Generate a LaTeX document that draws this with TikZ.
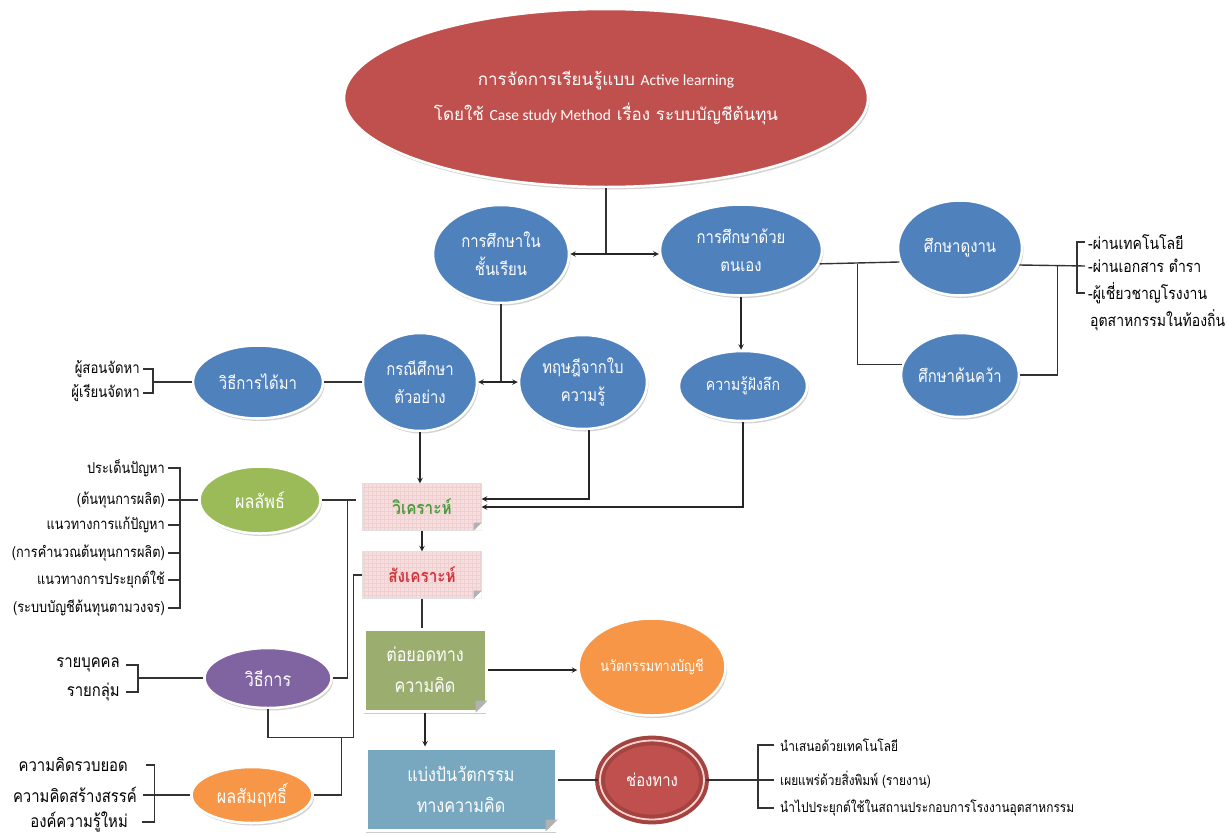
\documentclass[tikz,border=0pt]{standalone}
\usepackage{fontspec}
\usepackage{tikz}
\usetikzlibrary{shapes.geometric, arrows, shadows, calc}
\newfontfamily\thaifont[Script=Thai,FakeStretch=0.85]{Loma}
\newfontfamily\titlefont[Script=Thai]{Loma}
\newfontfamily\latinfont{Carlito}
\newcommand{\ellfont}{\thaifont\fontsize{17.5}{28}\selectfont}
\newcommand{\sidefont}{\thaifont\fontsize{15}{20}\selectfont}
\newcommand{\eng}[1]{{\latinfont\fontsize{15.5}{35}\selectfont #1}}
\definecolor{ofred}{HTML}{C0504D}
\definecolor{ofblue}{HTML}{4F81BD}
\definecolor{ofgreen}{HTML}{9BBB59}
\definecolor{ofpurple}{HTML}{8064A2}
\definecolor{oforange}{HTML}{F79646}
\definecolor{boxgreen}{HTML}{9BAE70}
\definecolor{boxblue}{HTML}{78A7C0}
\definecolor{boxpink}{HTML}{F6DEDF}
\definecolor{gridpink}{HTML}{F0CFD1}
\definecolor{anagreen}{HTML}{4C9A3C}
\definecolor{synred}{HTML}{D2343C}
\tikzstyle{conn} = [line width=1.4pt, black!80]
\tikzstyle{arr} = [line width=1.4pt, black!85, ->, >=stealth]
\tikzstyle{arrs} = [line width=1.4pt, black!85, <->, >=stealth]
\tikzstyle{bubble} = [ellipse, draw=white, line width=2.5pt, inner sep=0pt, text=white, align=center, font=\ellfont, drop shadow={shadow xshift=1.5pt, shadow yshift=-2.5pt, opacity=0.35}]
\tikzstyle{bluebub} = [bubble, fill=ofblue]
\tikzstyle{ring} = [ellipse, fill=ofred, draw=ofred!85!black, line width=4pt, double=pink!70!white, double distance=1.8pt, inner sep=0pt, text=white, font=\ellfont, drop shadow={shadow xshift=1.5pt, shadow yshift=-2.5pt, opacity=0.35}]
\tikzstyle{pinkbox} = [rectangle, fill=boxpink, draw=black!12, minimum width=119, minimum height=47, font=\thaifont\bfseries\fontsize{18}{20}\selectfont, path picture={\draw[gridpink, line width=0.3pt, step=4pt] (path picture bounding box.south west) grid (path picture bounding box.north east);}]
\tikzstyle{paper} = [rectangle, draw=white, line width=3pt, text=white, align=center, font=\thaifont\fontsize{19}{31}\selectfont, drop shadow={shadow xshift=0pt, shadow yshift=-3pt, opacity=0.4}]
\tikzstyle{note} = [font=\sidefont, inner sep=0pt]
\newcommand{\dogear}[2]{%
  \fill[white] (#1.south east) -- ++(-#2,0) -- ++(#2,-#2) -- cycle;
  \fill[black!30] ($(#1.south east)+(-#2,0)$) -- ($(#1.south east)+(0,-#2)$) -- ($(#1.south east)+(-#2,-#2)$) -- cycle;}

\begin{document}
\begin{tikzpicture}[x=1pt, y=-1pt]
    \path[fill=white] (0,0) rectangle (1228,835);
    \useasboundingbox (0,0) rectangle (1228,835);

    \node[bubble, fill=ofred, minimum width=524, minimum height=178, font=\titlefont\fontsize{17}{35}\selectfont] (main) at (606,98) {การจัดการเรียนรู้แบบ \eng{Active learning}\\โดยใช้ \eng{Case study Method} เรื่อง ระบบบัญชีต้นทุน};

    \node[bluebub, minimum width=136, minimum height=98] (inclass) at (501,254) {การศึกษาใน\\ชั้นเรียน};
    \node[bluebub, minimum width=162, minimum height=91] (self) at (741,250) {การศึกษาด้วย\\ตนเอง};
    \node[bluebub, minimum width=114, minimum height=98] (casestudy) at (420,382) {กรณีศึกษา\\ตัวอย่าง};
    \node[bluebub, minimum width=128, minimum height=94] (theory) at (583,382) {ทฤษฎีจากใบ\\ความรู้};
    \node[bluebub, minimum width=128, minimum height=70, font=\thaifont\fontsize{16.5}{28}\selectfont] (deep) at (743,386) {ความรู้ฝังลึก};
    \node[bluebub, minimum width=130, minimum height=73] (getway) at (258,382) {วิธีการได้มา};
    \node[bluebub, minimum width=124, minimum height=95] (visit) at (960,248) {ศึกษาดูงาน};
    \node[bluebub, minimum width=114, minimum height=84] (research) at (960,375) {ศึกษาค้นคว้า};

    \node[pinkbox, text=anagreen] (analyze) at (422,507) {วิเคราะห์};
    \node[pinkbox, text=synred] (synth) at (422,575) {สังเคราะห์};
    \node[paper, fill=boxgreen, minimum width=122, minimum height=82] (extend) at (425,670) {ต่อยอดทาง\\ความคิด};
    \node[paper, fill=boxblue, minimum width=190, minimum height=82] (share) at (461,789) {แบ่งปันวัตกรรม\\ทางความคิด};
    \node[bubble, fill=oforange, minimum width=147, minimum height=97, font=\thaifont\fontsize{15}{28}\selectfont] (innov) at (652,667) {นวัตกรรมทางบัญชี};
    \node[ring, minimum width=104, minimum height=79] (channel) at (652,780) {ช่องทาง};

    \node[bubble, fill=ofgreen, minimum width=121, minimum height=67, font=\thaifont\fontsize{19}{28}\selectfont] (result) at (260,500) {ผลลัพธ์};
    \node[bubble, fill=ofpurple, minimum width=127, minimum height=60, font=\thaifont\fontsize{19}{28}\selectfont] (method) at (268,678) {วิธีการ};
    \node[bubble, fill=oforange, minimum width=121, minimum height=56, font=\thaifont\fontsize{19}{28}\selectfont] (achieve) at (252,795) {ผลสัมฤทธิ์};

    \node[note, anchor=west, font=\thaifont\fontsize{16.5}{20}\selectfont] (v1) at (1088,242) {-ผ่านเทคโนโลยี};
    \node[note, anchor=west, font=\thaifont\fontsize{16.5}{20}\selectfont] (v2) at (1088,266) {-ผ่านเอกสาร ตำรา};
    \node[note, anchor=west, font=\thaifont\fontsize{16.5}{20}\selectfont] (v3) at (1088,293) {-ผู้เชี่ยวชาญโรงงาน};
    \node[note, anchor=west, font=\thaifont\fontsize{16.5}{20}\selectfont] (v4) at (1090,320) {อุตสาหกรรมในท้องถิ่น};

    \node[note, anchor=east, font=\thaifont\fontsize{15.5}{20}\selectfont] (g1) at (140,369) {ผู้สอนจัดหา};
    \node[note, anchor=east, font=\thaifont\fontsize{15.5}{20}\selectfont] (g2) at (140,393) {ผู้เรียนจัดหา};

    \node[note, anchor=east] (r1) at (165,468) {ประเด็นปัญหา};
    \node[note, anchor=east] (r2) at (165,500) {(ต้นทุนการผลิต)};
    \node[note, anchor=east] (r3) at (165,525) {แนวทางการแก้ปัญหา};
    \node[note, anchor=east] (r4) at (165,553) {(การคำนวณต้นทุนการผลิต)};
    \node[note, anchor=east] (r5) at (165,580) {แนวทางการประยุกต์ใช้};
    \node[note, anchor=east] (r6) at (165,608) {(ระบบบัญชีต้นทุนตามวงจร)};

    \node[note, anchor=east, font=\thaifont\fontsize{17.5}{20}\selectfont] (m1) at (120,665) {รายบุคคล};
    \node[note, anchor=east, font=\thaifont\fontsize{17.5}{20}\selectfont] (m2) at (120,692) {รายกลุ่ม};

    \node[note, anchor=east, font=\thaifont\fontsize{17.5}{20}\selectfont] (a1) at (128,765) {ความคิดรวบยอด};
    \node[note, anchor=east, font=\thaifont\fontsize{17.5}{20}\selectfont] (a2) at (137,795) {ความคิดสร้างสรรค์};
    \node[note, anchor=east, font=\thaifont\fontsize{17.5}{20}\selectfont] (a3) at (128,822) {องค์ความรู้ใหม่};

    \node[note, anchor=west, font=\thaifont\fontsize{14}{20}\selectfont] (c1) at (780,745) {นำเสนอด้วยเทคโนโลยี};
    \node[note, anchor=west, font=\thaifont\fontsize{14}{20}\selectfont] (c2) at (780,780) {เผยแพร่ด้วยสิ่งพิมพ์ (รายงาน)};
    \node[note, anchor=west, font=\thaifont\fontsize{14}{20}\selectfont] (c3) at (780,808) {นำไปประยุกต์ใช้ในสถานประกอบการโรงงานอุตสาหกรรม};

    \dogear{analyze}{8}
    \dogear{synth}{8}
    \dogear{extend}{12}
    \dogear{share}{12}

    \draw[conn] (main.south) -- (main.south |- inclass.east);
    \draw[arrs] (inclass.east) -- (inclass.east -| self.west);
    \draw[conn] (inclass.south) -- (inclass.south |- casestudy.east);
    \draw[arrs] (casestudy.east) -- (theory.west);
    \draw[conn] (getway) -- (casestudy);
    \draw[arr] (self.south) -- (self.south |- deep.north);

    \draw[conn] (self.-10) -- (visit.193);
    \coordinate (sj) at ($(self.-10)+(38,0)$);
    \draw[conn] (sj) |- (research.170);
    \draw[conn] (visit.-16) -- ([xshift=-3pt]v2.west);
    \coordinate (vj) at ($(visit.-16)+(38,0)$);
    \draw[conn] (vj) |- (research.east);
    \draw[conn] ([xshift=-3pt]v1.west) -- ++(-8,0) |- ([xshift=-3pt]v3.west);

    \draw[conn] ([xshift=3pt]g1.east) -- ++(10,0) coordinate (gb) |- ([xshift=3pt]g2.east);
    \draw[conn] (getway.west) -- (getway.west -| gb);

    \draw[arr] (casestudy.south) -- (casestudy.south |- analyze.north);
    \draw[arr] ([xshift=6pt]theory.south) |- ($(analyze.east)+(0,-8)$);
    \draw[arr] (deep.south) |- (analyze.east);
    \draw[arr] (analyze) -- (synth);
    \draw[conn] (synth.south) -- (synth.south |- extend.north);
    \draw[arr] (extend.east) -- (extend.east -| innov.west);
    \draw[arr] (extend.south) -- (extend.south |- share.north);
    \draw[conn] (share.east |- channel.west) -- (channel.west);

    \draw[conn] (channel.east) -- ([xshift=-6pt]c2.west);
    \draw[conn] ([xshift=-6pt]c1.west) -- ++(-16,0) |- ([xshift=-6pt]c3.west);

    \draw[conn] ([xshift=3pt]r1.east) -- ++(12,0) |- ([xshift=3pt]r6.east);
    \foreach \k in {3,4,5}
        \draw[conn] ([xshift=3pt]r\k.east) -- ++(12,0);
    \draw[conn] ([xshift=3pt]r2.east) -- (result.west);

    \draw[conn] (result.east) -- ($(analyze.west |- result.east)+(-6,0)$);
    \coordinate (rj) at ($(result.east)+(26,0)$);
    \draw[conn] (rj) |- (method.east);
    \draw[conn] (synth.west) -- ++(-9,0) coordinate (sj2) |- ($(method.south)+(0,28)$) -- (method.south);
    \draw[conn] ($(sj2 |- method.south)+(-12,28)$) |- (achieve.east);

    \draw[conn] ([xshift=6pt]m1.east) -- ++(12,0) coordinate (mb) |- ([xshift=6pt]m2.east);
    \draw[conn] (method.west) -- (method.west -| mb);

    \coordinate (ab) at ($(achieve.west)+(-36,0)$);
    \draw[conn] ([xshift=18pt]a1.east) -| (ab) |- ([xshift=14pt]a3.east);
    \draw[conn] ([xshift=6pt]a2.east) -- (achieve.west);
\end{tikzpicture}
\end{document}
